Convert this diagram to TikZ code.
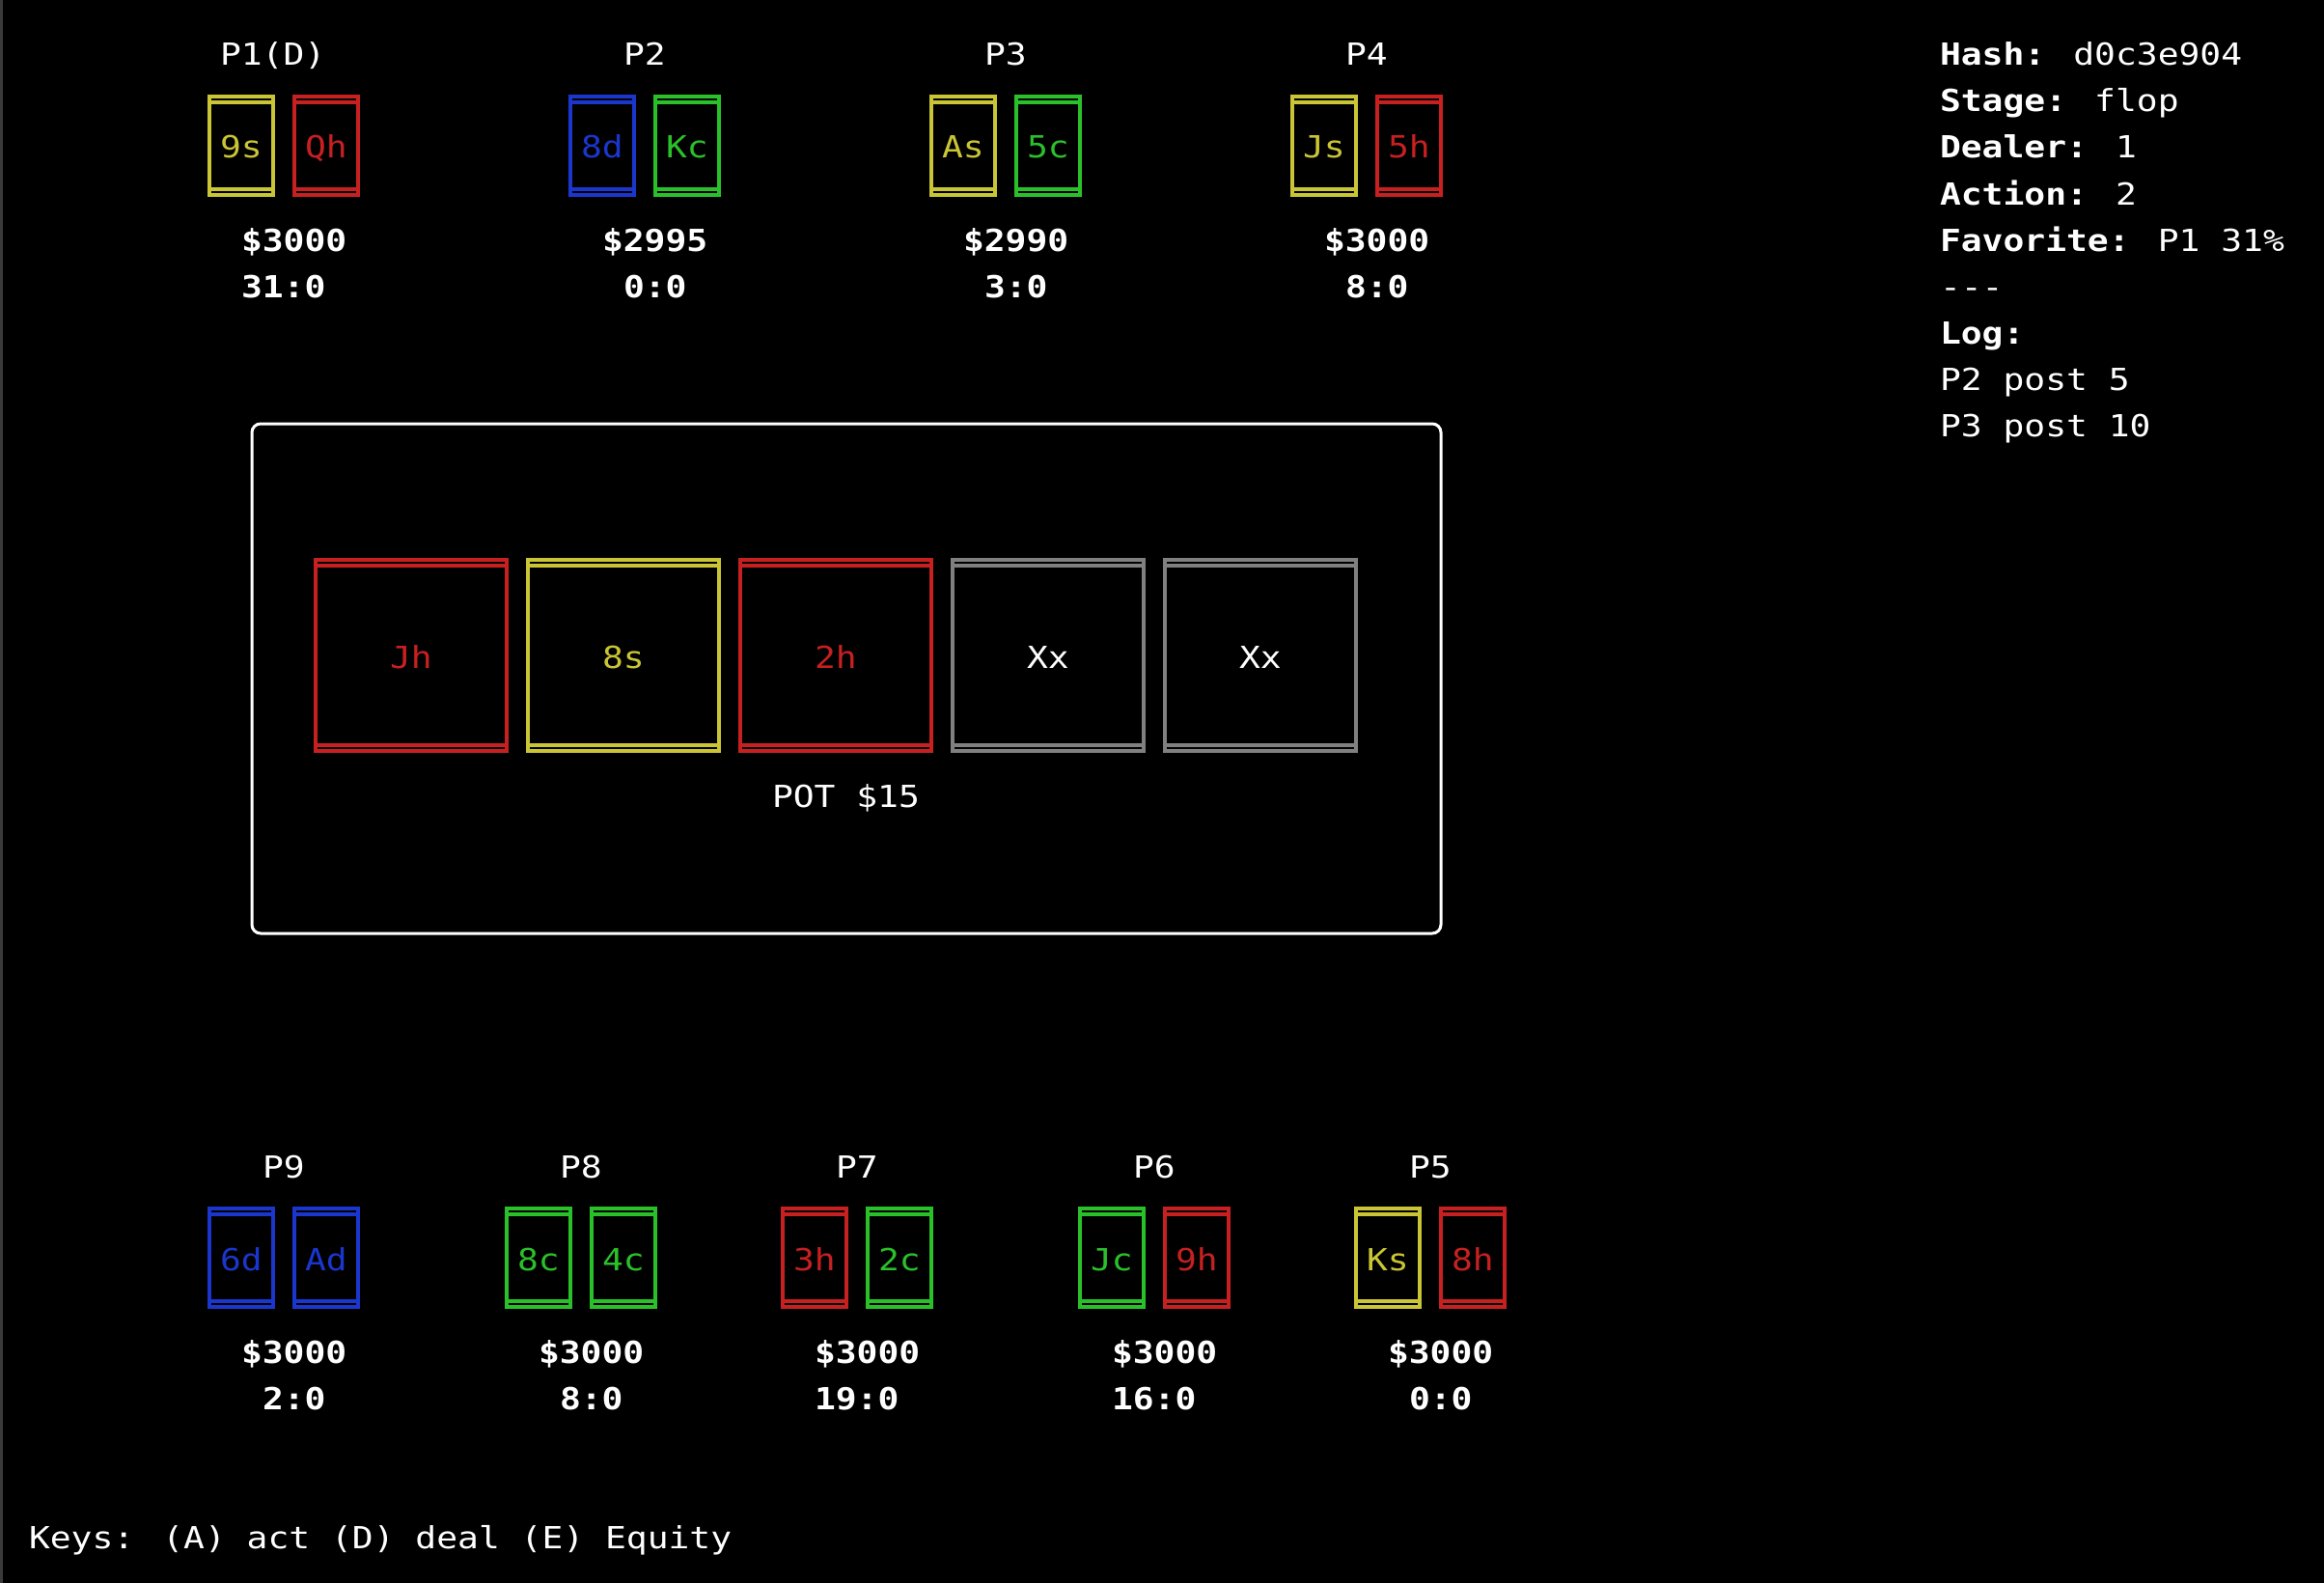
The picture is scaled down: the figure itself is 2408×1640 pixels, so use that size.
\documentclass[tikz,border=0pt]{standalone}
\usepackage{fontspec}
\newfontfamily\term[FakeStretch=1.152]{DejaVu Sans Mono}
\definecolor{cyel}{RGB}{201,197,52}
\definecolor{cred}{RGB}{198,32,32}
\definecolor{cblu}{RGB}{26,54,204}
\definecolor{cgrn}{RGB}{42,192,42}
\definecolor{cgry}{RGB}{128,128,128}
\definecolor{strip}{RGB}{58,58,58}
\tikzset{
  tx/.style={anchor=base west, inner sep=0pt, outer sep=0pt, text=white,
    font=\term\fontsize{31.5}{40}\selectfont},
  bx/.style={tx, font=\term\bfseries\fontsize{31.5}{40}\selectfont},
  cardline/.style={line width=3.8pt},
  tableline/.style={draw=white, line width=3pt, rounded corners=9pt},
}
% text at column, row
\newcommand\ptext[5]{\node[#1] (#2) at ({30+22*(#3)},{68+48*(#4)}) {#5};}
% card: name, col, row, colspan, rowspan, colour, text colour, label
\newcommand\card[8]{%
  \draw[cardline,#6] ({41+22*(#2)},{55+48*(#3)-3.3}) rectangle ({41+22*(#2+#4)},{55+48*(#3+#5)+3.3});
  \draw[cardline,#6] ({41+22*(#2)},{55+48*(#3)+3.3}) -- ({41+22*(#2+#4)},{55+48*(#3)+3.3});
  \draw[cardline,#6] ({41+22*(#2)},{55+48*(#3+#5)-3.3}) -- ({41+22*(#2+#4)},{55+48*(#3+#5)-3.3});
  \node[tx,text=#7] (#1) at ({30+22*(#2+(#4-1)/2)},{68+48*(#3+#5/2)}) {#8};}
\begin{document}
\begin{tikzpicture}[x=1pt,y=-1pt]
\useasboundingbox (0,0) rectangle (2408,1640);
\fill[black] (0,0) rectangle (2408,1640);
\fill[strip] (0,0) rectangle (2.5,1640);

% table
\draw[tableline] ({41+22*10},{55+48*8}) rectangle ({41+22*66},{55+48*19});

% top players
\ptext{tx}{l1}{9}{0}{P1(D)}
\ptext{tx}{l2}{28}{0}{P2}
\ptext{tx}{l3}{45}{0}{P3}
\ptext{tx}{l4}{62}{0}{P4}
\card{c1a}{8}{1}{3}{2}{cyel}{cyel}{9s}
\card{c1b}{12}{1}{3}{2}{cred}{cred}{Qh}
\card{c2a}{25}{1}{3}{2}{cblu}{cblu}{8d}
\card{c2b}{29}{1}{3}{2}{cgrn}{cgrn}{Kc}
\card{c3a}{42}{1}{3}{2}{cyel}{cyel}{As}
\card{c3b}{46}{1}{3}{2}{cgrn}{cgrn}{5c}
\card{c4a}{59}{1}{3}{2}{cyel}{cyel}{Js}
\card{c4b}{63}{1}{3}{2}{cred}{cred}{5h}
\ptext{bx}{m1}{10}{4}{\$3000}
\ptext{bx}{m2}{27}{4}{\$2995}
\ptext{bx}{m3}{44}{4}{\$2990}
\ptext{bx}{m4}{61}{4}{\$3000}
\ptext{bx}{s1}{10}{5}{31:0}
\ptext{bx}{s2}{28}{5}{0:0}
\ptext{bx}{s3}{45}{5}{3:0}
\ptext{bx}{s4}{62}{5}{8:0}

% board
\card{b1}{13}{11}{9}{4}{cred}{cred}{Jh}
\card{b2}{23}{11}{9}{4}{cyel}{cyel}{8s}
\card{b3}{33}{11}{9}{4}{cred}{cred}{2h}
\card{b4}{43}{11}{9}{4}{cgry}{white}{Xx}
\card{b5}{53}{11}{9}{4}{cgry}{white}{Xx}
\ptext{tx}{pot}{35}{16}{POT \$15}

% bottom players
\ptext{tx}{l9}{11}{24}{P9}
\ptext{tx}{l8}{25}{24}{P8}
\ptext{tx}{l7}{38}{24}{P7}
\ptext{tx}{l6}{52}{24}{P6}
\ptext{tx}{l5}{65}{24}{P5}
\card{c9a}{8}{25}{3}{2}{cblu}{cblu}{6d}
\card{c9b}{12}{25}{3}{2}{cblu}{cblu}{Ad}
\card{c8a}{22}{25}{3}{2}{cgrn}{cgrn}{8c}
\card{c8b}{26}{25}{3}{2}{cgrn}{cgrn}{4c}
\card{c7a}{35}{25}{3}{2}{cred}{cred}{3h}
\card{c7b}{39}{25}{3}{2}{cgrn}{cgrn}{2c}
\card{c6a}{49}{25}{3}{2}{cgrn}{cgrn}{Jc}
\card{c6b}{53}{25}{3}{2}{cred}{cred}{9h}
\card{c5a}{62}{25}{3}{2}{cyel}{cyel}{Ks}
\card{c5b}{66}{25}{3}{2}{cred}{cred}{8h}
\ptext{bx}{m9}{10}{28}{\$3000}
\ptext{bx}{m8}{24}{28}{\$3000}
\ptext{bx}{m7}{37}{28}{\$3000}
\ptext{bx}{m6}{51}{28}{\$3000}
\ptext{bx}{m5}{64}{28}{\$3000}
\ptext{bx}{s9}{11}{29}{2:0}
\ptext{bx}{s8}{25}{29}{8:0}
\ptext{bx}{s7}{37}{29}{19:0}
\ptext{bx}{s6}{51}{29}{16:0}
\ptext{bx}{s5}{65}{29}{0:0}

% info panel
\ptext{tx}{i0}{90}{0}{\textbf{Hash:} d0c3e904}
\ptext{tx}{i1}{90}{1}{\textbf{Stage:} flop}
\ptext{tx}{i2}{90}{2}{\textbf{Dealer:} 1}
\ptext{tx}{i3}{90}{3}{\textbf{Action:} 2}
\ptext{tx}{i4}{90}{4}{\textbf{Favorite:} P1 31\%}
\ptext{tx}{i5}{90}{5}{-{}-{}-}
\ptext{tx}{i6}{90}{6}{\textbf{Log:}}
\ptext{tx}{i7}{90}{7}{P2 post 5}
\ptext{tx}{i8}{90}{8}{P3 post 10}

% keys
\ptext{tx}{keys}{0}{32}{Keys: (A) act (D) deal (E) Equity}
\end{tikzpicture}
\end{document}
